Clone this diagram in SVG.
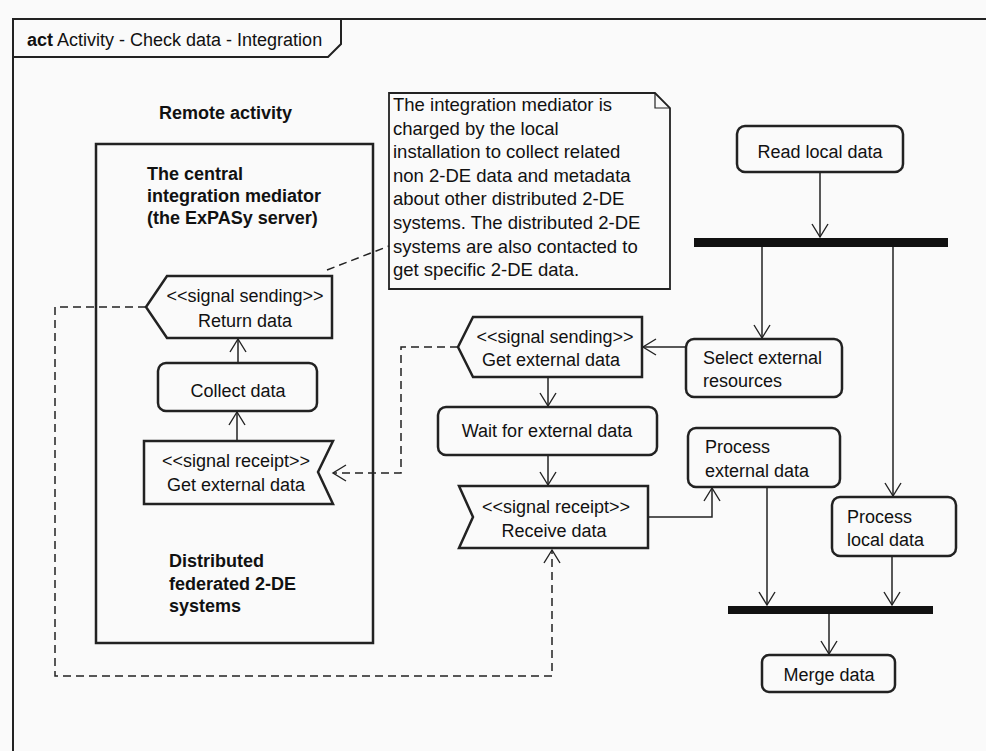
<svg xmlns="http://www.w3.org/2000/svg" width="986" height="751" viewBox="0 0 986 751">
  <defs>
    <marker id="open" markerWidth="18" markerHeight="20" refX="14" refY="9" orient="auto" markerUnits="userSpaceOnUse">
      <path d="M1,1 L14,9 L1,17" fill="none" stroke="#222" stroke-width="1.4"/>
    </marker>
    <style>
      .bg { fill: #fafafa; }
      .frame { fill: none; stroke: #222; stroke-width: 2; }
      .node { fill: #fafafa; stroke: #222; stroke-width: 2.5; }
      .bar { fill: #111; }
      .edge { fill: none; stroke: #222; stroke-width: 1.5; }
      .dash { fill: none; stroke: #222; stroke-width: 1.5; stroke-dasharray: 8 5; }
      .t { font-family: "Liberation Sans", Arial, sans-serif; font-size: 18px; fill: #111; }
      .n { font-size: 18.5px; }
      .c { text-anchor: middle; }
      .b { font-weight: bold; }
    </style>
  </defs>

  <rect class="bg" x="0" y="0" width="986" height="751"/>

  <!-- activity frame -->
  <g id="frame">
    <path class="frame" d="M13,751 L13,19 L986,19"/>
    <path class="frame" d="M13,57 L328,57 L341,44 L341,19"/>
    <text class="t" x="27" y="46" font-size="17"><tspan class="b">act</tspan> Activity - Check data - Integration</text>
  </g>

  <!-- remote partition -->
  <g id="remote">
    <text class="t b" x="159" y="119">Remote activity</text>
    <rect x="96" y="144" width="277" height="499" fill="none" stroke="#222" stroke-width="2.5"/>
    <text class="t b" x="147" y="180">The central</text>
    <text class="t b" x="147" y="202">integration mediator</text>
    <text class="t b" x="147" y="224">(the ExPASy server)</text>
    <text class="t b" x="169" y="567">Distributed</text>
    <text class="t b" x="169" y="590">federated 2-DE</text>
    <text class="t b" x="169" y="612">systems</text>
  </g>

  <!-- note -->
  <g id="note">
    <path d="M389,93 L655,93 L670,108 L670,289 L389,289 Z" fill="#fafafa" stroke="#222" stroke-width="1.8"/>
    <path d="M655,93 L655,108 L670,108" fill="none" stroke="#222" stroke-width="1.2"/>
    <text class="t n" x="393" y="111">The integration mediator is</text>
    <text class="t n" x="393" y="134.5">charged by the local</text>
    <text class="t n" x="393" y="158">installation to collect related</text>
    <text class="t n" x="393" y="181.5">non 2-DE data and metadata</text>
    <text class="t n" x="393" y="205">about other distributed 2-DE</text>
    <text class="t n" x="393" y="229">systems. The distributed 2-DE</text>
    <text class="t n" x="393" y="252.5">systems are also contacted to</text>
    <text class="t n" x="393" y="276">get specific 2-DE data.</text>
  </g>

  <!-- connectors -->
  <g id="connectors">
    <path class="dash" d="M327,270 L389,246"/>
    <path class="dash" d="M146,307 L55,307 L55,676 L552,676 L552,550" marker-end="url(#open)"/>
    <path class="dash" d="M458,347 L401,347 L401,473 L333,473" marker-end="url(#open)"/>
    <path class="edge" d="M238,363 L238,339" marker-end="url(#open)"/>
    <path class="edge" d="M237,441 L237,412" marker-end="url(#open)"/>
    <path class="edge" d="M820,172 L820,237" marker-end="url(#open)"/>
    <path class="edge" d="M762,247 L762,338" marker-end="url(#open)"/>
    <path class="edge" d="M893,247 L893,496" marker-end="url(#open)"/>
    <path class="edge" d="M686,347 L643,347" marker-end="url(#open)"/>
    <path class="edge" d="M548,377 L548,406" marker-end="url(#open)"/>
    <path class="edge" d="M548,455 L548,485" marker-end="url(#open)"/>
    <path class="edge" d="M648,517 L712,517 L712,488" marker-end="url(#open)"/>
    <path class="edge" d="M767,487 L767,605" marker-end="url(#open)"/>
    <path class="edge" d="M892,556 L892,605" marker-end="url(#open)"/>
    <path class="edge" d="M829,614 L829,654" marker-end="url(#open)"/>
  </g>

  <!-- remote actions -->
  <g id="return-data">
    <path class="node" d="M167,276 L332,276 L332,338 L167,338 L146,307 Z"/>
    <text class="t c" x="245" y="302">&lt;&lt;signal sending&gt;&gt;</text>
    <text class="t c" x="245" y="327">Return data</text>
  </g>
  <g id="collect-data">
    <rect class="node" x="158" y="363" width="159" height="48" rx="8"/>
    <text class="t c" x="238" y="397">Collect data</text>
  </g>
  <g id="get-external-remote">
    <path class="node" d="M144,441 L333,441 L318,472 L333,504 L144,504 Z"/>
    <text class="t c" x="236" y="467">&lt;&lt;signal receipt&gt;&gt;</text>
    <text class="t c" x="236" y="491">Get external data</text>
  </g>

  <!-- local actions -->
  <g id="read-local">
    <rect class="node" x="737" y="126" width="166" height="46" rx="8"/>
    <text class="t c" x="820" y="158">Read local data</text>
  </g>
  <g id="fork">
    <rect class="bar" x="694" y="238" width="254" height="9"/>
  </g>
  <g id="select-external">
    <rect class="node" x="686" y="339" width="156" height="58" rx="8"/>
    <text class="t" x="703" y="364">Select external</text>
    <text class="t" x="703" y="387">resources</text>
  </g>
  <g id="get-external-send">
    <path class="node" d="M473,317 L642,317 L642,377 L473,377 L458,347 Z"/>
    <text class="t c" x="555" y="343">&lt;&lt;signal sending&gt;&gt;</text>
    <text class="t c" x="551" y="366">Get external data</text>
  </g>
  <g id="wait">
    <rect class="node" x="438" y="407" width="219" height="48" rx="8"/>
    <text class="t c" x="547" y="437">Wait for external data</text>
  </g>
  <g id="receive">
    <path class="node" d="M459,486 L648,486 L648,548 L459,548 L473,517 Z"/>
    <text class="t c" x="556" y="513">&lt;&lt;signal receipt&gt;&gt;</text>
    <text class="t c" x="554" y="537">Receive data</text>
  </g>
  <g id="process-external">
    <rect class="node" x="688" y="428" width="152" height="59" rx="8"/>
    <text class="t" x="705" y="453">Process</text>
    <text class="t" x="705" y="477">external data</text>
  </g>
  <g id="process-local">
    <rect class="node" x="832" y="497" width="124" height="59" rx="8"/>
    <text class="t" x="847" y="523">Process</text>
    <text class="t" x="847" y="546">local data</text>
  </g>
  <g id="join">
    <rect class="bar" x="728" y="606" width="205" height="8"/>
  </g>
  <g id="merge">
    <rect class="node" x="762" y="655" width="133" height="37" rx="7"/>
    <text class="t c" x="829" y="681">Merge data</text>
  </g>
</svg>
